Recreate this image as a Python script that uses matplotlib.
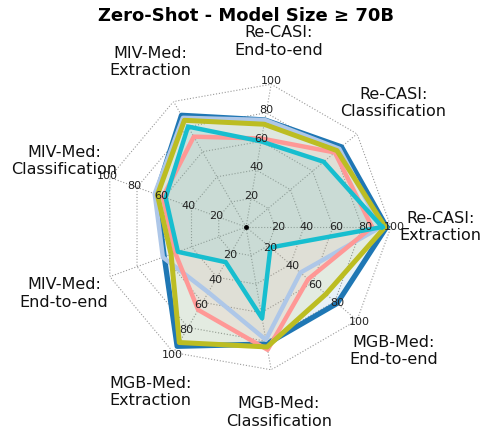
import numpy as np
import matplotlib.pyplot as plt

categories = ["Re-CASI:\nExtraction", "Re-CASI:\nClassification", "Re-CASI:\nEnd-to-end",
              "MIV-Med:\nExtraction", "MIV-Med:\nClassification", "MIV-Med:\nEnd-to-end",
              "MGB-Med:\nExtraction", "MGB-Med:\nClassification", "MGB-Med:\nEnd-to-end"]

# one list per model (same order as categories)
model_blue = [97, 86, 75, 89, 66, 60, 95, 82, 82]
model_lightblue = [93, 84, 75, 87, 67, 61, 52, 79, 49]
model_pink = [87, 80, 62, 72, 61, 52, 66, 86, 56]
model_olive = [96, 82, 72, 85, 65, 55, 92, 84, 72]
model_cyan = [94, 70, 60, 80, 59, 50, 28, 64, 22]

series = [model_blue, model_lightblue, model_pink, model_olive, model_cyan]
colors = ["#1f77b4", "#aec7e8", "#ff9896", "#bcbd22", "#17becf"]
widths = [3.8, 3.2, 3.2, 3.6, 3.2]

ticks = [20, 40, 60, 80, 100]

n = len(categories)
angles = np.arange(n) * 2 * np.pi / n  # 0 = right, counter-clockwise
closed = np.append(angles, angles[0])

fig = plt.figure(figsize=(4.82, 4.34), dpi=100)
ax = fig.add_axes([0.2095, 0.1429, 0.6017, 0.668], projection="polar")
ax.set_ylim(0, 100)
ax.grid(False)
ax.spines["polar"].set_visible(False)
ax.set_xticks([])
ax.set_yticks([])

# polygon grid + spokes
for t in ticks:
    ax.plot(closed, [t] * (n + 1), color="#999999", lw=0.8, ls=":", zorder=1)
for a in angles:
    ax.plot([a, a], [0, 100], color="#999999", lw=0.8, ls=":", zorder=1)

for vals, c, w in zip(series, colors, widths):
    v = np.append(vals, vals[0])
    ax.fill(closed, v, color=c, alpha=0.1, zorder=2)
    ax.plot(closed, v, color=c, lw=w, zorder=3)

ax.plot(0, 0, "k.", ms=5, zorder=5)

# tick labels on every other spoke
for a in angles[::2]:
    for t in ticks:
        ax.text(a, t + 2, str(t), ha="center", va="center", fontsize=8,
                color="#222222", zorder=6)

# category labels (a bit further out sideways, where the text is wide)
for a, lab in zip(angles, categories):
    r = 129 + 5 * abs(np.cos(a))
    ax.text(a, r, lab, ha="center", va="center", fontsize=11.5,
            color="#111111", clip_on=False, zorder=7)

fig.suptitle("Zero-Shot - Model Size ≥ 70B", fontsize=13, fontweight="bold",
             x=0.51, y=0.983)

fig.savefig("out.png", dpi=100)
